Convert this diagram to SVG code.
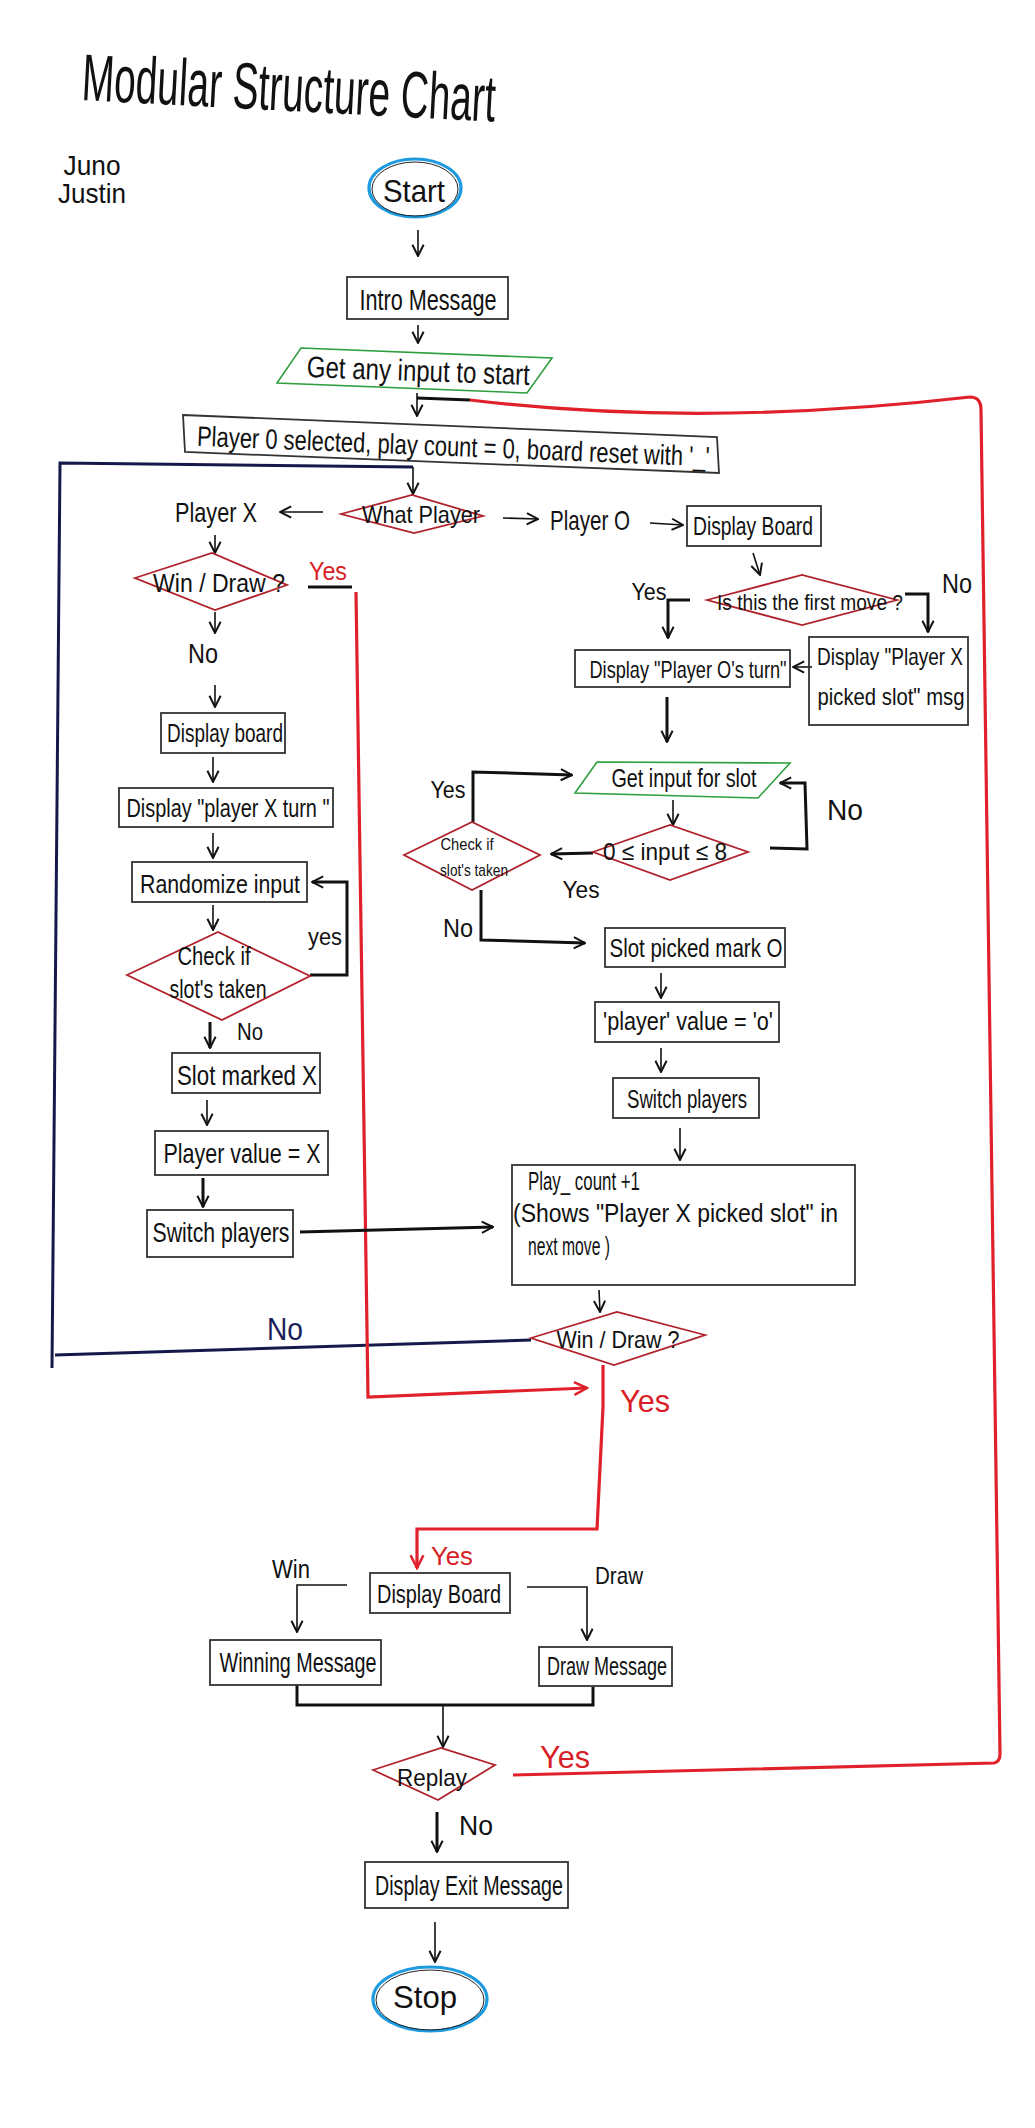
<svg xmlns="http://www.w3.org/2000/svg" width="1035" height="2128" viewBox="0 0 1035 2128">
<style>
text{font-family:"Liberation Sans Narrow","Liberation Sans","DejaVu Sans Condensed",sans-serif;fill:#111;text-anchor:middle}
.box{fill:none;stroke:#333;stroke-width:1.8}
.dia{fill:none;stroke:#b0212b;stroke-width:1.8}
.par{fill:none;stroke:#2f9e3f;stroke-width:1.6}
.term{fill:none;stroke:#1e9be0;stroke-width:3.2}
.termi{fill:none;stroke:#222;stroke-width:1}
.a{fill:none;stroke:#111;stroke-width:1.6;marker-end:url(#ah)}
.ak{fill:none;stroke:#111;stroke-width:3;marker-end:url(#ah)}
.k{fill:none;stroke:#111;stroke-width:3}
.r{fill:none;stroke:#e0202a;stroke-width:3.2}
.ar{fill:none;stroke:#e0202a;stroke-width:3.2;marker-end:url(#ahr)}
.bl{fill:none;stroke:#15194a;stroke-width:3}
.red{fill:#d81e26}
.nv{fill:#1a1f5c}
</style>
<defs>
<marker id="ah" viewBox="0 0 10 10" refX="9" refY="5" markerWidth="14" markerHeight="14" markerUnits="userSpaceOnUse" orient="auto"><path d="M1,1 L9,5 L1,9" fill="none" stroke="#111" stroke-width="1.4"/></marker>
<marker id="ahr" viewBox="0 0 10 10" refX="9" refY="5" markerWidth="16" markerHeight="16" markerUnits="userSpaceOnUse" orient="auto"><path d="M1,1 L9,5 L1,9" fill="none" stroke="#e0202a" stroke-width="1.6"/></marker>
</defs>
<rect width="1035" height="2128" fill="#fff"/>

<g id="title"><text x="81" y="100" font-size="66" style="text-anchor:start" textLength="414" lengthAdjust="spacingAndGlyphs" transform="rotate(3 81 100)">Modular Structure Chart</text></g>
<g id="authors"><text x="92" y="175" font-size="28" fill="#333" textLength="57" lengthAdjust="spacingAndGlyphs">Juno</text><text x="92" y="203" font-size="28" fill="#333" textLength="68" lengthAdjust="spacingAndGlyphs">Justin</text></g>

<g id="connectors">
<path class="a" d="M418,230 L418,256"/>
<path class="a" d="M418,325 L418,343"/>
<path class="a" d="M417,393 L417,416"/>
<path class="k" d="M417,398 L470,400"/>
<path class="r" d="M513,1775 L994,1763 Q1000,1762 1000,1754 L981,410 Q981,397 970,397 Q700,428 470,400"/>
<path class="bl" d="M531,1340 L55,1355"/>
<path class="bl" d="M52,1368 L60,463 L413,467"/>
<path class="a" d="M413,467 L413,494"/>
<path class="a" d="M323,512 L280,512"/>
<path class="a" d="M503,518 L538,519"/>
<path class="a" d="M650,523 L683,525"/>
<path class="a" d="M753,553 L760,575"/>
<path class="ak" d="M690,600 L668,600 L668,638"/>
<path class="ak" d="M905,594 L928,594 L928,632"/>
<path class="a" d="M812,667 L793,667"/>
<path class="ak" d="M667,697 L667,742"/>
<path class="a" d="M673,800 L673,825"/>
<path class="ak" d="M593,853 L551,854"/>
<path class="ak" d="M770,848 L807,849 L805,783 L780,783"/>
<path class="ak" d="M473,822 L473,772 L572,775"/>
<path class="ak" d="M481,890 L481,940 L585,943"/>
<path class="a" d="M661,973 L661,998"/>
<path class="a" d="M661,1048 L661,1072"/>
<path class="a" d="M680,1128 L680,1160"/>
<path class="a" d="M599,1290 L600,1312"/>
<path class="ar" d="M603,1365 L603,1407 L597,1529 L417,1529 L417,1568"/>
<path class="k" d="M308,587 L352,587"/>
<path class="ar" d="M356,592 L368,1397 L587,1388"/>
<path class="a" d="M215,535 L215,553"/>
<path class="a" d="M215,612 L215,633"/>
<path class="a" d="M215,685 L215,707"/>
<path class="a" d="M213,757 L213,782"/>
<path class="a" d="M213,833 L213,858"/>
<path class="a" d="M213,905 L213,930"/>
<path class="ak" d="M310,975 L347,975 L347,882 L312,882"/>
<path class="ak" d="M210,1022 L210,1048"/>
<path class="a" d="M207,1100 L207,1125"/>
<path class="ak" d="M203,1178 L203,1207"/>
<path class="ak" d="M300,1232 L493,1227"/>
<path class="a" d="M347,1585 L297,1585 L297,1632"/>
<path class="a" d="M527,1587 L587,1587 L587,1640"/>
<path class="k" d="M297,1685 L297,1705 L593,1705 L593,1687"/>
<path class="a" d="M443,1705 L443,1747"/>
<path class="ak" d="M437,1812 L437,1852"/>
<path class="a" d="M435,1922 L435,1962"/>
</g>

<g id="labels">
<text class="red" x="328" y="580" font-size="26" textLength="38" lengthAdjust="spacingAndGlyphs">Yes</text>
<text x="203" y="663" font-size="28" textLength="30" lengthAdjust="spacingAndGlyphs">No</text>
<text x="649" y="600" font-size="24" textLength="35" lengthAdjust="spacingAndGlyphs">Yes</text>
<text x="957" y="593" font-size="28" textLength="30" lengthAdjust="spacingAndGlyphs">No</text>
<text x="448" y="798" font-size="24" textLength="35" lengthAdjust="spacingAndGlyphs">Yes</text>
<text x="845" y="820" font-size="30" textLength="36" lengthAdjust="spacingAndGlyphs">No</text>
<text x="581" y="898" font-size="24" textLength="37" lengthAdjust="spacingAndGlyphs">Yes</text>
<text x="458" y="937" font-size="26" textLength="30" lengthAdjust="spacingAndGlyphs">No</text>
<text x="325" y="945" font-size="24" textLength="34" lengthAdjust="spacingAndGlyphs">yes</text>
<text x="250" y="1040" font-size="24" textLength="26" lengthAdjust="spacingAndGlyphs">No</text>
<text class="nv" x="285" y="1340" font-size="32" textLength="36" lengthAdjust="spacingAndGlyphs">No</text>
<text class="red" x="645" y="1412" font-size="32" textLength="50" lengthAdjust="spacingAndGlyphs">Yes</text>
<text class="red" x="452" y="1565" font-size="26" textLength="42" lengthAdjust="spacingAndGlyphs">Yes</text>
<text x="291" y="1578" font-size="26" textLength="38" lengthAdjust="spacingAndGlyphs">Win</text>
<text x="619" y="1584" font-size="24" textLength="48" lengthAdjust="spacingAndGlyphs">Draw</text>
<text class="red" x="565" y="1768" font-size="32" textLength="50" lengthAdjust="spacingAndGlyphs">Yes</text>
<text x="476" y="1835" font-size="28" textLength="34" lengthAdjust="spacingAndGlyphs">No</text>
</g>

<g id="start"><ellipse class="term" cx="415" cy="188" rx="46" ry="29"/><ellipse class="termi" cx="415" cy="189" rx="43" ry="27"/><text x="414" y="202" font-size="32" textLength="62" lengthAdjust="spacingAndGlyphs">Start</text></g>
<g id="intro"><rect class="box" x="347" y="277" width="161" height="42"/><text x="428" y="310" font-size="30" textLength="137" lengthAdjust="spacingAndGlyphs">Intro Message</text></g>
<g id="get-input-start"><polygon class="par" points="301,348 552,358 527,393 277,383"/><text x="418" y="381" font-size="30" textLength="223" lengthAdjust="spacingAndGlyphs" transform="rotate(2 418 381)">Get any input to start</text></g>
<g id="init"><polygon class="box" points="183,415 717,437 719,473 185,452"/><text x="453" y="456" font-size="28" textLength="513" lengthAdjust="spacingAndGlyphs" transform="rotate(2.3 453 456)">Player 0 selected, play count = 0, board reset with '_'</text></g>
<g id="what-player"><polygon class="dia" points="341,514 412,495 483,516 414,533"/><text x="421" y="523" font-size="24" textLength="118" lengthAdjust="spacingAndGlyphs">What Player</text></g>
<g id="player-x"><text x="216" y="522" font-size="28" textLength="82" lengthAdjust="spacingAndGlyphs">Player X</text></g>
<g id="player-o"><text x="590" y="530" font-size="28" textLength="80" lengthAdjust="spacingAndGlyphs">Player O</text></g>
<g id="display-board-o"><rect class="box" x="687" y="506" width="134" height="40"/><text x="753" y="535" font-size="26" textLength="120" lengthAdjust="spacingAndGlyphs">Display Board</text></g>
<g id="first-move"><polygon class="dia" points="707,600 802,575 897,600 802,625"/><text x="810" y="610" font-size="22" textLength="186" lengthAdjust="spacingAndGlyphs">Is this the first move ?</text></g>
<g id="display-o-turn"><rect class="box" x="575" y="650" width="215" height="37"/><text x="688" y="678" font-size="24" textLength="197" lengthAdjust="spacingAndGlyphs">Display "Player O's turn"</text></g>
<g id="display-x-msg"><rect class="box" x="809" y="637" width="159" height="88"/><text x="890" y="665" font-size="24" textLength="146" lengthAdjust="spacingAndGlyphs">Display "Player X</text><text x="891" y="705" font-size="24" textLength="147" lengthAdjust="spacingAndGlyphs">picked slot" msg</text></g>
<g id="get-input-slot"><polygon class="par" points="597,762 790,763 758,798 575,793"/><text x="684" y="787" font-size="26" textLength="145" lengthAdjust="spacingAndGlyphs">Get input for slot</text></g>
<g id="input-range"><polygon class="dia" points="593,852 670,825 748,852 670,880"/><text x="665" y="860" font-size="24" textLength="124" lengthAdjust="spacingAndGlyphs">0 ≤ input ≤ 8</text></g>
<g id="check-slot-o"><polygon class="dia" points="404,855 472,822 540,855 472,890"/><text x="467" y="850" font-size="17" textLength="53" lengthAdjust="spacingAndGlyphs">Check if</text><text x="474" y="876" font-size="17" textLength="68" lengthAdjust="spacingAndGlyphs">slot's taken</text></g>
<g id="slot-mark-o"><rect class="box" x="605" y="928" width="180" height="39"/><text x="696" y="957" font-size="26" textLength="173" lengthAdjust="spacingAndGlyphs">Slot picked mark O</text></g>
<g id="player-val-o"><rect class="box" x="595" y="1002" width="184" height="40"/><text x="688" y="1030" font-size="26" textLength="170" lengthAdjust="spacingAndGlyphs">'player' value = 'o'</text></g>
<g id="switch-o"><rect class="box" x="613" y="1078" width="146" height="40"/><text x="687" y="1108" font-size="26" textLength="120" lengthAdjust="spacingAndGlyphs">Switch players</text></g>
<g id="play-count"><rect class="box" x="512" y="1165" width="343" height="120"/><text x="528" y="1190" font-size="26" style="text-anchor:start" textLength="112" lengthAdjust="spacingAndGlyphs">Play_ count +1</text><text x="513" y="1222" font-size="26" style="text-anchor:start" textLength="325" lengthAdjust="spacingAndGlyphs">(Shows "Player X picked slot" in</text><text x="528" y="1255" font-size="26" style="text-anchor:start" textLength="82" lengthAdjust="spacingAndGlyphs">next move )</text></g>
<g id="win-draw-2"><polygon class="dia" points="531,1338 617,1312 705,1335 614,1365"/><text x="618" y="1348" font-size="24" textLength="123" lengthAdjust="spacingAndGlyphs">Win / Draw ?</text></g>
<g id="win-draw-1"><polygon class="dia" points="135,578 212,553 287,585 215,610"/><text x="219" y="592" font-size="26" textLength="132" lengthAdjust="spacingAndGlyphs">Win / Draw ?</text></g>
<g id="display-board-x"><rect class="box" x="161" y="713" width="124" height="40"/><text x="225" y="742" font-size="26" textLength="116" lengthAdjust="spacingAndGlyphs">Display board</text></g>
<g id="display-x-turn"><rect class="box" x="119" y="788" width="214" height="39"/><text x="228" y="817" font-size="26" textLength="203" lengthAdjust="spacingAndGlyphs">Display "player X turn "</text></g>
<g id="randomize"><rect class="box" x="132" y="862" width="175" height="40"/><text x="220" y="893" font-size="26" textLength="160" lengthAdjust="spacingAndGlyphs">Randomize input</text></g>
<g id="check-slot-x"><polygon class="dia" points="127,975 218,932 310,976 222,1020"/><text x="214" y="965" font-size="26" textLength="73" lengthAdjust="spacingAndGlyphs">Check if</text><text x="218" y="998" font-size="26" textLength="97" lengthAdjust="spacingAndGlyphs">slot's taken</text></g>
<g id="slot-mark-x"><rect class="box" x="172" y="1053" width="148" height="40"/><text x="247" y="1085" font-size="28" textLength="140" lengthAdjust="spacingAndGlyphs">Slot marked X</text></g>
<g id="player-val-x"><rect class="box" x="155" y="1131" width="173" height="44"/><text x="242" y="1163" font-size="28" textLength="157" lengthAdjust="spacingAndGlyphs">Player value = X</text></g>
<g id="switch-x"><rect class="box" x="147" y="1210" width="146" height="47"/><text x="221" y="1242" font-size="28" textLength="137" lengthAdjust="spacingAndGlyphs">Switch players</text></g>
<g id="display-board-end"><rect class="box" x="370" y="1573" width="140" height="40"/><text x="439" y="1603" font-size="26" textLength="124" lengthAdjust="spacingAndGlyphs">Display Board</text></g>
<g id="win-msg"><rect class="box" x="210" y="1640" width="171" height="45"/><text x="298" y="1672" font-size="28" textLength="157" lengthAdjust="spacingAndGlyphs">Winning Message</text></g>
<g id="draw-msg"><rect class="box" x="539" y="1647" width="133" height="39"/><text x="607" y="1675" font-size="26" textLength="120" lengthAdjust="spacingAndGlyphs">Draw Message</text></g>
<g id="replay"><polygon class="dia" points="373,1770 441,1748 495,1765 438,1800"/><text x="432" y="1786" font-size="24" textLength="70" lengthAdjust="spacingAndGlyphs">Replay</text></g>
<g id="exit-msg"><rect class="box" x="365" y="1862" width="203" height="46"/><text x="469" y="1895" font-size="28" textLength="188" lengthAdjust="spacingAndGlyphs">Display Exit Message</text></g>
<g id="stop"><ellipse class="term" cx="430" cy="1999" rx="57" ry="32"/><ellipse class="termi" cx="430" cy="2000" rx="54" ry="30"/><text x="425" y="2008" font-size="32" textLength="64" lengthAdjust="spacingAndGlyphs">Stop</text></g>
</svg>
